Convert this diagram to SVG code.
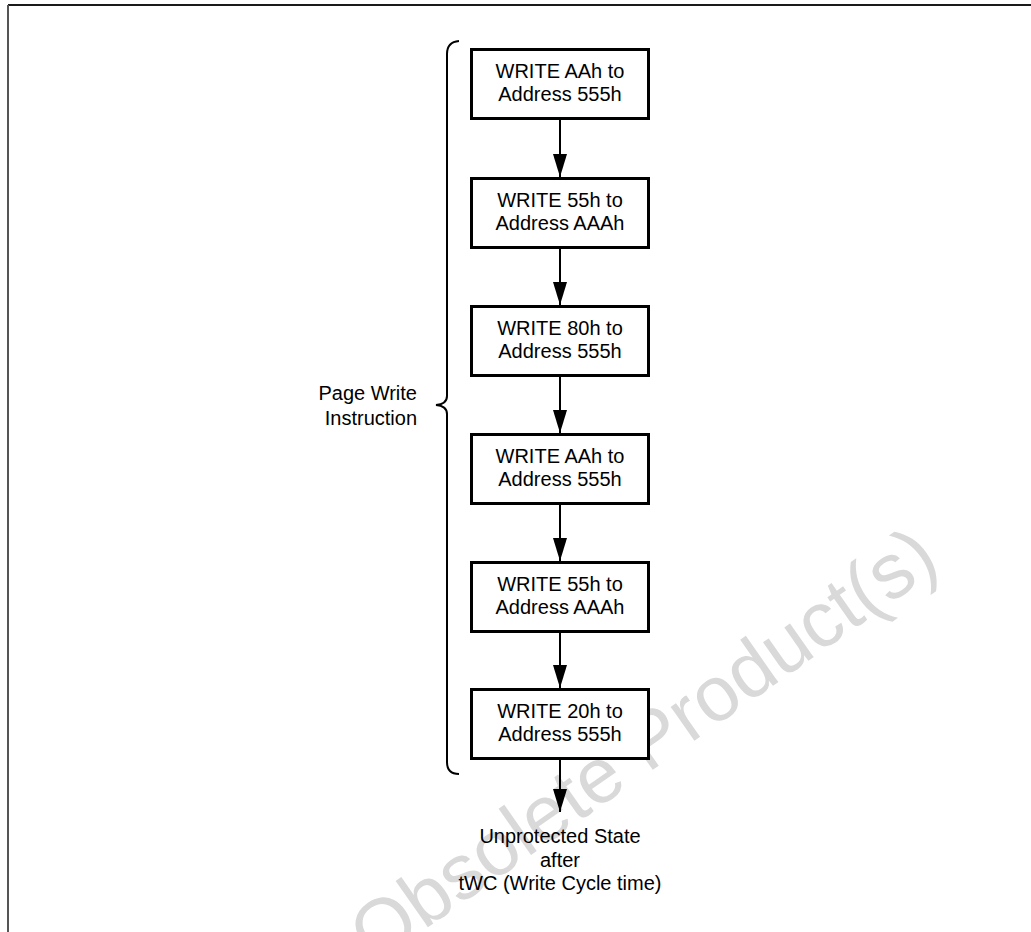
<svg xmlns="http://www.w3.org/2000/svg" width="1031" height="932" viewBox="0 0 1031 932">
<defs>
<style>
.box{fill:#fff;stroke:#000;stroke-width:3}
.t{font-family:"Liberation Sans",Arial,sans-serif;font-size:20px;fill:#000;text-anchor:middle}
.conn{stroke:#000;stroke-width:2;fill:none}
.wm{font-family:"Liberation Sans",Arial,sans-serif;font-size:78px;fill:#d9d9d9}
</style>
<marker id="ah" markerWidth="23" markerHeight="14" refX="23" refY="7" viewBox="0 0 23 14" markerUnits="userSpaceOnUse" orient="auto">
<path d="M0,0 L23,7 L0,14 Z" fill="#000"/>
</marker>
</defs>
<rect width="1031" height="932" fill="#fff"/>
<text class="wm" x="374" y="965" transform="rotate(-35 374 965)">Obsolete Product(s)</text>
<g id="frame">
<line x1="8" y1="5" x2="1031" y2="5" stroke="#1a1a1a" stroke-width="2"/>
<line x1="8" y1="5" x2="8" y2="932" stroke="#555" stroke-width="2"/>
</g>
<g id="connectors">
<line class="conn" x1="560" y1="120" x2="560" y2="177" marker-end="url(#ah)"/>
<line class="conn" x1="560" y1="249" x2="560" y2="305" marker-end="url(#ah)"/>
<line class="conn" x1="560" y1="377" x2="560" y2="433" marker-end="url(#ah)"/>
<line class="conn" x1="560" y1="505" x2="560" y2="561" marker-end="url(#ah)"/>
<line class="conn" x1="560" y1="633" x2="560" y2="688" marker-end="url(#ah)"/>
<line class="conn" x1="560" y1="760" x2="560" y2="812" marker-end="url(#ah)"/>
</g>
<g id="n1"><rect class="box" x="471.5" y="49.5" width="177" height="69"/><text class="t" x="560" y="78">WRITE AAh to</text><text class="t" x="560" y="101">Address 555h</text></g>
<g id="n2"><rect class="box" x="471.5" y="178.5" width="177" height="69"/><text class="t" x="560" y="207">WRITE 55h to</text><text class="t" x="560" y="230">Address AAAh</text></g>
<g id="n3"><rect class="box" x="471.5" y="306.5" width="177" height="69"/><text class="t" x="560" y="335">WRITE 80h to</text><text class="t" x="560" y="358">Address 555h</text></g>
<g id="n4"><rect class="box" x="471.5" y="434.5" width="177" height="69"/><text class="t" x="560" y="463">WRITE AAh to</text><text class="t" x="560" y="486">Address 555h</text></g>
<g id="n5"><rect class="box" x="471.5" y="562.5" width="177" height="69"/><text class="t" x="560" y="591">WRITE 55h to</text><text class="t" x="560" y="614">Address AAAh</text></g>
<g id="n6"><rect class="box" x="471.5" y="689.5" width="177" height="69"/><text class="t" x="560" y="718">WRITE 20h to</text><text class="t" x="560" y="741">Address 555h</text></g>
<g id="brace">
<path class="conn" d="M459,41 Q447,42 447,54 L447,396 Q447,404 436,405 Q447,406 447,414 L447,762 Q447,774 459,774"/>
<text class="t" style="text-anchor:end" x="417" y="400">Page Write</text>
<text class="t" style="text-anchor:end" x="417" y="425">Instruction</text>
</g>
<g id="end">
<text class="t" x="560" y="843">Unprotected State</text>
<text class="t" x="560" y="867">after</text>
<text class="t" x="560" y="890">tWC (Write Cycle time)</text>
</g>
</svg>
